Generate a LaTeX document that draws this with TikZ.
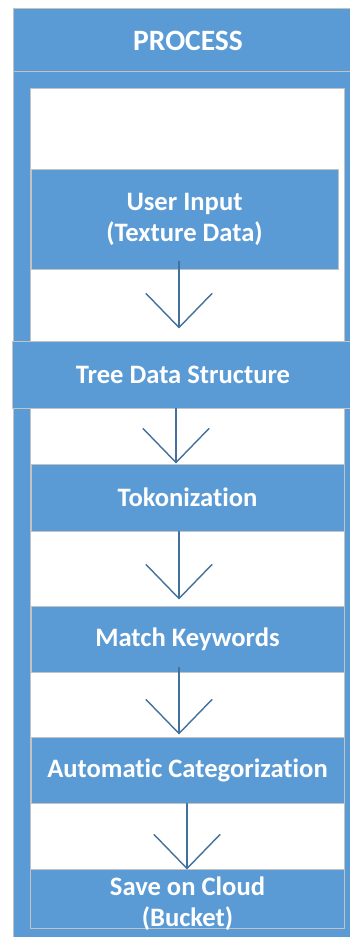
\documentclass[tikz,border=0pt]{standalone}
\usepackage{fontspec}
\setmainfont{Carlito}[RawFeature={-liga}]
\definecolor{procblue}{HTML}{5B9BD5}
\definecolor{procedge}{HTML}{C3C3C3}
\definecolor{flowcol}{HTML}{41719C}
\tikzset{
  frame/.style={fill=procblue, draw=procedge, line width=1pt},
  panel/.style={fill=white, draw=procedge, line width=1pt},
  stepbox/.style={fill=procblue, draw=procedge, line width=1pt, inner sep=0pt,
    text=white, align=center, font=\bfseries\fontsize{26.6}{31}\selectfont},
  lbl/.style={text=white, align=center, inner sep=0pt,
    font=\bfseries\fontsize{26.6}{31}\selectfont},
  flowline/.style={draw=flowcol, line width=1.4pt, line cap=round, line join=round}
}
% open V-shaped head drawn at the tip
\newcommand\flowarrow[2]{%
  \draw[flowline] #1 -- #2;
  \draw[flowline] #2 ++(-33,-34) -- #2 -- ++(33,-34);
}
\begin{document}
\begin{tikzpicture}[x=1pt, y=-1pt]
\useasboundingbox (0,0) rectangle (350,937);
\clip (0,0) rectangle (350,937);

% outer frame with header
\draw[frame] (13,8) rectangle (352,940);
\draw[draw=procedge, line width=1pt] (13,71) -- (352,71);
\node[lbl, font=\bfseries\fontsize{29.5}{34}\selectfont] (title) at (188,41) {PROCESS};

% white lane
\draw[panel] (30,88) rectangle (344,928);

% process steps
\node[stepbox, minimum width=307pt, minimum height=100pt] (ui) at (184.5,219)
  {User Input\\(Texture Data)};
\node[stepbox, minimum width=342pt, minimum height=67pt] (tree) at (183,374.5)
  {Tree Data Structure};
\node[stepbox, minimum width=313pt, minimum height=67pt] (tok) at (187.5,497.5)
  {Tokonization};
\node[stepbox, minimum width=313pt, minimum height=66pt] (match) at (187.5,639)
  {Match Keywords};
\node[stepbox, minimum width=313pt, minimum height=66pt] (auto) at (187.5,770)
  {Automatic Categorization};
\node[stepbox, minimum width=314pt, minimum height=59pt] (save) at (187,898.5) {};
\node[lbl] (savetxt) at (187.5,904) {Save on Cloud\\(Bucket)};

% connector columns
\coordinate (c1) at (179,0);
\coordinate (c2) at (176,0);
\coordinate (c3) at (179,0);
\coordinate (c4) at (179,0);
\coordinate (c5) at (187,0);

% connectors
\flowarrow{([yshift=8pt]ui.south -| c1)}{([yshift=13pt]tree.north -| c1)}
\flowarrow{(tree.south -| c2)}{([yshift=1pt]tok.north -| c2)}
\flowarrow{(tok.south -| c3)}{([yshift=7pt]match.north -| c3)}
\flowarrow{([yshift=5pt]match.south -| c4)}{([yshift=3pt]auto.north -| c4)}
\flowarrow{(auto.south -| c5)}{(save.north -| c5)}
\end{tikzpicture}
\end{document}
